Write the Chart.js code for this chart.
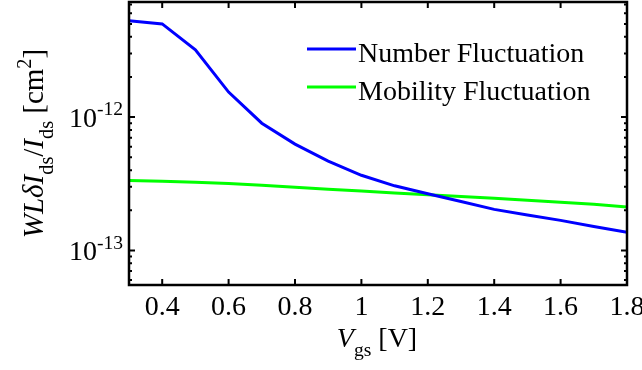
<!DOCTYPE html>
<html>
<head>
<meta charset="utf-8">
<script src="https://cdn.jsdelivr.net/npm/chart.js@4"></script>
<style>
  html, body { margin: 0; padding: 0; background: #fff; }
  #wrap { width: 642px; height: 370px; }
</style>
</head>
<body>
<div id="wrap"><canvas id="noiseChart" width="642" height="370"></canvas></div>
<script>
// gate voltage sweep and the two normalized noise curves
const vgs = [0.3, 0.4, 0.5, 0.6, 0.7, 0.8, 0.9, 1.0, 1.1, 1.2, 1.3, 1.4, 1.5, 1.6, 1.7, 1.8];
const numberFluct = [5.27e-12, 5.0e-12, 3.19e-12, 1.54e-12, 9.0e-13, 6.27e-13, 4.67e-13, 3.66e-13,
                     3.05e-13, 2.66e-13, 2.33e-13, 2.03e-13, 1.84e-13, 1.68e-13, 1.51e-13, 1.37e-13];
const mobilityFluct = [3.35e-13, 3.3e-13, 3.25e-13, 3.18e-13, 3.08e-13, 2.98e-13, 2.88e-13, 2.79e-13,
                       2.7e-13, 2.62e-13, 2.54e-13, 2.46e-13, 2.38e-13, 2.3e-13, 2.22e-13, 2.12e-13];

// axis ticks
const xTicks = [0.4, 0.6, 0.8, 1.0, 1.2, 1.4, 1.6, 1.8];
const xTickLabels = ['0.4', '0.6', '0.8', '1', '1.2', '1.4', '1.6', '1.8'];
const yTicks = [1e-12, 1e-13];
const yTickExp = ['-12', '-13'];

const seriesNames = ['Number Fluctuation', 'Mobility Fluctuation'];
const seriesColors = ['#0000ff', '#00ff00'];

const FONT = '"Liberation Serif", "Times New Roman", serif';

function toPoints(xs, ys) {
  return xs.map((x, i) => ({ x: x, y: ys[i] }));
}

// draws a run of text pieces (normal / italic / sub / sup) starting at x,y
function drawPieces(ctx, pieces, x, y, size) {
  pieces.forEach(p => {
    let fs = size, dy = 0;
    if (p.sub) { fs = size * 0.7; dy = size * 0.33; }
    if (p.sup) { fs = size * 0.7; dy = -size * 0.42; }
    ctx.font = (p.italic ? 'italic ' : '') + fs + 'px ' + FONT;
    ctx.fillText(p.t, x, y + dy);
    x += ctx.measureText(p.t).width;
  });
  return x;
}

function piecesWidth(ctx, pieces, size) {
  let w = 0;
  pieces.forEach(p => {
    const fs = (p.sub || p.sup) ? size * 0.7 : size;
    ctx.font = (p.italic ? 'italic ' : '') + fs + 'px ' + FONT;
    w += ctx.measureText(p.t).width;
  });
  return w;
}

// frame, inward ticks, tick labels, titles and legend
const decorPlugin = {
  id: 'decor',
  afterDatasetsDraw(chart) {
    const ctx = chart.ctx;
    const area = chart.chartArea;
    const xs = chart.scales.x;
    const ys = chart.scales.y;
    ctx.save();
    ctx.strokeStyle = '#000';
    ctx.fillStyle = '#000';

    // box
    ctx.lineWidth = 2.5;
    ctx.strokeRect(area.left, area.top, area.right - area.left, area.bottom - area.top);

    // x ticks top and bottom
    ctx.lineWidth = 2;
    xTicks.forEach(v => {
      const px = xs.getPixelForValue(v);
      ctx.beginPath();
      ctx.moveTo(px, area.bottom); ctx.lineTo(px, area.bottom - 6);
      ctx.moveTo(px, area.top); ctx.lineTo(px, area.top + 6);
      ctx.stroke();
    });

    // y major + minor ticks, left and right
    for (let e = -14; e <= -11; e++) {
      for (let k = 1; k <= 9; k++) {
        const v = k * Math.pow(10, e);
        if (v < ys.min || v > ys.max) continue;
        const py = ys.getPixelForValue(v);
        const len = k === 1 ? 6 : 3;
        ctx.beginPath();
        ctx.moveTo(area.left, py); ctx.lineTo(area.left + len, py);
        ctx.moveTo(area.right, py); ctx.lineTo(area.right - len, py);
        ctx.stroke();
      }
    }

    // x tick labels
    ctx.font = '28px ' + FONT;
    ctx.textAlign = 'center';
    ctx.textBaseline = 'alphabetic';
    xTicks.forEach((v, i) => {
      ctx.fillText(xTickLabels[i], xs.getPixelForValue(v), 315);
    });

    // y tick labels 10^n
    ctx.textAlign = 'left';
    yTicks.forEach((v, i) => {
      const py = ys.getPixelForValue(v);
      const pieces = [{ t: '10' }, { t: yTickExp[i], sup: true }];
      const w = piecesWidth(ctx, pieces, 28);
      drawPieces(ctx, pieces, area.left - 6 - w, py + 10, 28);
    });

    // x title
    const xTitle = [{ t: 'V', italic: true }, { t: 'gs', sub: true }, { t: ' [V]' }];
    const xw = piecesWidth(ctx, xTitle, 28);
    drawPieces(ctx, xTitle, 377 - xw / 2, 347, 28);

    // y title (rotated)
    const yTitle = [
      { t: 'WL\u03B4I', italic: true }, { t: 'ds', sub: true },
      { t: '/' }, { t: 'I', italic: true }, { t: 'ds', sub: true },
      { t: ' [cm' }, { t: '2', sup: true }, { t: ']' }
    ];
    const yw = piecesWidth(ctx, yTitle, 29);
    ctx.save();
    ctx.translate(43, (area.top + area.bottom) / 2);
    ctx.rotate(-Math.PI / 2);
    drawPieces(ctx, yTitle, -yw / 2, 0, 29);
    ctx.restore();

    // legend
    const legY = [49, 87];
    seriesNames.forEach((name, i) => {
      ctx.strokeStyle = seriesColors[i];
      ctx.lineWidth = 3;
      ctx.beginPath();
      ctx.moveTo(307, legY[i]); ctx.lineTo(356, legY[i]);
      ctx.stroke();
      ctx.fillStyle = '#000';
      ctx.font = '28px ' + FONT;
      ctx.fillText(name, 358, legY[i] + 13);
    });

    ctx.restore();
  }
};

const ctx = document.getElementById('noiseChart').getContext('2d');
const noiseChart = new Chart(ctx, {
  type: 'line',
  data: {
    datasets: [
      {
        label: seriesNames[0],
        data: toPoints(vgs, numberFluct),
        borderColor: seriesColors[0],
        borderWidth: 3,
        pointRadius: 0,
        tension: 0
      },
      {
        label: seriesNames[1],
        data: toPoints(vgs, mobilityFluct),
        borderColor: seriesColors[1],
        borderWidth: 3,
        pointRadius: 0,
        tension: 0
      }
    ]
  },
  options: {
    responsive: false,
    animation: false,
    devicePixelRatio: 1,
    layout: { padding: { left: 129, right: 15, top: 2, bottom: 85 } },
    plugins: {
      legend: { display: false },
      tooltip: { enabled: false }
    },
    scales: {
      x: { type: 'linear', min: 0.3, max: 1.8, display: false },
      y: { type: 'logarithmic', min: 5.5e-14, max: 7.3e-12, display: false }
    }
  },
  plugins: [decorPlugin]
});
</script>
</body>
</html>
